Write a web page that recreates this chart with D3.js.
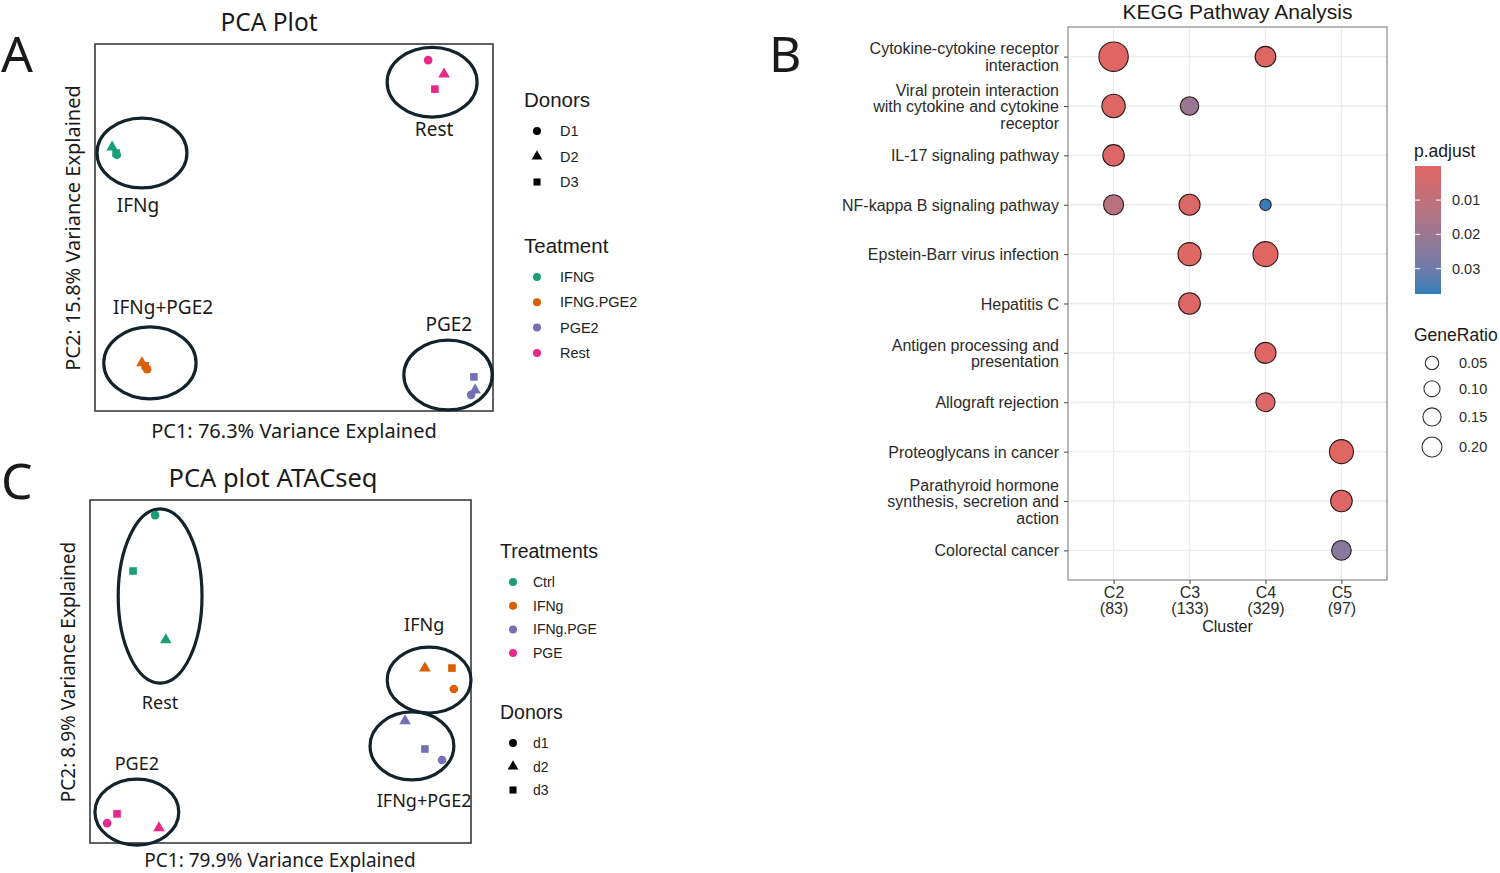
<!DOCTYPE html>
<html>
<head>
<meta charset="utf-8">
<script src="https://cdn.jsdelivr.net/npm/d3@7"></script>
<style>
  body { margin: 0; background: #fff; }
  svg { display: block; }
  .ann { font-family: "Noto Sans", "Open Sans", sans-serif; fill: #1a1a1a; }
  .gg { font-family: "Liberation Sans", Arial, sans-serif; }
</style>
</head>
<body>
<script>
// ---------- data ----------

// panel A: RNA-seq PCA (axes are unitless, 0-100 of the plotted range)
var pcaATreatments = ["IFNG", "IFNG.PGE2", "PGE2", "Rest"];
var pcaADonors = ["D1", "D2", "D3"];
var pcaAPoints = [
  {t: "Rest", d: "D1", pc1: 83.7, pc2: 95.6},
  {t: "Rest", d: "D2", pc1: 87.7, pc2: 91.8},
  {t: "Rest", d: "D3", pc1: 85.4, pc2: 87.7},
  {t: "IFNG", d: "D2", pc1: 4.3, pc2: 71.9},
  {t: "IFNG", d: "D3", pc1: 5.3, pc2: 70.3},
  {t: "IFNG", d: "D1", pc1: 5.5, pc2: 69.8},
  {t: "IFNG.PGE2", d: "D2", pc1: 11.8, pc2: 13.1},
  {t: "IFNG.PGE2", d: "D3", pc1: 12.6, pc2: 12.3},
  {t: "IFNG.PGE2", d: "D1", pc1: 13.1, pc2: 11.4},
  {t: "PGE2", d: "D3", pc1: 95.2, pc2: 9.3},
  {t: "PGE2", d: "D2", pc1: 95.5, pc2: 5.7},
  {t: "PGE2", d: "D1", pc1: 94.5, pc2: 4.4}
];
var pcaAGroups = [
  {label: "Rest", cx: 84.7, cy: 89.6, rx: 11.3, ry: 9.5, lx: 85.2, ly: 74.9},
  {label: "IFNg", cx: 11.8, cy: 70.3, rx: 11.3, ry: 9.5, lx: 10.8, ly: 54.2},
  {label: "IFNg+PGE2", cx: 13.8, cy: 13.1, rx: 11.6, ry: 9.8, lx: 17.1, ly: 26.4},
  {label: "PGE2", cx: 88.7, cy: 9.8, rx: 11.1, ry: 9.5, lx: 88.9, ly: 21.8}
];

// panel C: ATAC-seq PCA
var pcaCTreatments = ["Ctrl", "IFNg", "IFNg.PGE", "PGE"];
var pcaCDonors = ["d1", "d2", "d3"];
var pcaCPoints = [
  {t: "Ctrl", d: "d1", pc1: 17.1, pc2: 95.6},
  {t: "Ctrl", d: "d3", pc1: 11.3, pc2: 79.3},
  {t: "Ctrl", d: "d2", pc1: 19.9, pc2: 59.2},
  {t: "IFNg", d: "d2", pc1: 87.9, pc2: 51.0},
  {t: "IFNg", d: "d3", pc1: 95.0, pc2: 51.0},
  {t: "IFNg", d: "d1", pc1: 95.5, pc2: 44.9},
  {t: "IFNg.PGE", d: "d2", pc1: 82.7, pc2: 35.6},
  {t: "IFNg.PGE", d: "d3", pc1: 87.9, pc2: 27.4},
  {t: "IFNg.PGE", d: "d1", pc1: 92.4, pc2: 24.2},
  {t: "PGE", d: "d1", pc1: 4.5, pc2: 5.8},
  {t: "PGE", d: "d3", pc1: 7.1, pc2: 8.5},
  {t: "PGE", d: "d2", pc1: 18.1, pc2: 4.4}
];
var pcaCGroups = [
  {label: "Rest", cx: 18.4, cy: 72.0, rx: 11.0, ry: 25.4, lx: 18.4, ly: 39.1},
  {label: "IFNg", cx: 89.0, cy: 47.5, rx: 11.0, ry: 9.6, lx: 87.7, ly: 61.8},
  {label: "IFNg+PGE2", cx: 84.5, cy: 28.3, rx: 11.0, ry: 9.9, lx: 87.7, ly: 10.5},
  {label: "PGE2", cx: 12.3, cy: 9.0, rx: 11.0, ry: 9.6, lx: 12.3, ly: 21.3}
];

// panel B: KEGG enrichment
var pathways = [
  ["Cytokine-cytokine receptor", "interaction"],
  ["Viral protein interaction", "with cytokine and cytokine", "receptor"],
  ["IL-17 signaling pathway"],
  ["NF-kappa B signaling pathway"],
  ["Epstein-Barr virus infection"],
  ["Hepatitis C"],
  ["Antigen processing and", "presentation"],
  ["Allograft rejection"],
  ["Proteoglycans in cancer"],
  ["Parathyroid hormone", "synthesis, secretion and", "action"],
  ["Colorectal cancer"]
];
var clusters = ["C2", "C3", "C4", "C5"];
var clusterSizes = [83, 133, 329, 97];
var keggHits = [
  {path: 0, cl: "C2", ratio: 0.220, p: 0.0002},
  {path: 0, cl: "C4", ratio: 0.108, p: 0.0010},
  {path: 1, cl: "C2", ratio: 0.139, p: 0.0008},
  {path: 1, cl: "C3", ratio: 0.086, p: 0.0205},
  {path: 2, cl: "C2", ratio: 0.117, p: 0.0012},
  {path: 3, cl: "C2", ratio: 0.102, p: 0.0120},
  {path: 3, cl: "C3", ratio: 0.112, p: 0.0015},
  {path: 3, cl: "C4", ratio: 0.033, p: 0.0374},
  {path: 4, cl: "C3", ratio: 0.135, p: 0.0005},
  {path: 4, cl: "C4", ratio: 0.159, p: 0.0001},
  {path: 5, cl: "C3", ratio: 0.119, p: 0.0010},
  {path: 6, cl: "C4", ratio: 0.112, p: 0.0004},
  {path: 7, cl: "C4", ratio: 0.092, p: 0.0020},
  {path: 8, cl: "C5", ratio: 0.147, p: 0.0006},
  {path: 9, cl: "C5", ratio: 0.119, p: 0.0012},
  {path: 10, cl: "C5", ratio: 0.098, p: 0.0250}
];
var pAdjTicks = [0.01, 0.02, 0.03];
var ratioTicks = [0.05, 0.10, 0.15, 0.20];

// ---------- drawing ----------
var svg = d3.select("body").append("svg")
  .attr("width", 1500)
  .attr("height", 873);

var dark2 = ["#1b9e77", "#d95f02", "#7570b3", "#e7298a"];
var shapeList = [d3.symbolCircle, d3.symbolTriangle, d3.symbolSquare];

//panel letters
[["A", 1, 72], ["B", 769, 72], ["C", 1, 499]].forEach(function(l){
  svg.append("text").attr("class", "ann")
    .attr("x", l[1]).attr("y", l[2])
    .style("font-size", "50px")
    .text(l[0]);
});

function drawPCA(cfg){
  var x = d3.scaleLinear().domain([0, 100]).range([cfg.left, cfg.right]);
  var y = d3.scaleLinear().domain([0, 100]).range([cfg.bottom, cfg.top]);
  var color = d3.scaleOrdinal().domain(cfg.treatments).range(dark2);
  var shape = d3.scaleOrdinal().domain(cfg.donors).range(shapeList);
  var g = svg.append("g");

  //frame
  g.append("rect")
    .attr("x", cfg.left).attr("y", cfg.top)
    .attr("width", cfg.right - cfg.left).attr("height", cfg.bottom - cfg.top)
    .attr("fill", "none").attr("stroke", "#3a3a3a").attr("stroke-width", 1.6);

  //title and axis titles
  g.append("text").attr("class", "ann")
    .attr("x", cfg.titleX).attr("y", cfg.top - 13)
    .attr("text-anchor", "middle").style("font-size", cfg.titleSize + "px")
    .text(cfg.title);
  g.append("text").attr("class", "ann")
    .attr("x", cfg.xTitleX).attr("y", cfg.bottom + cfg.xTitleDy)
    .attr("text-anchor", "middle").style("font-size", cfg.axisSize + "px")
    .text(cfg.xTitle);
  g.append("text").attr("class", "ann")
    .attr("transform", "translate(" + (cfg.left - 15) + "," + cfg.yTitleY + ") rotate(-90)")
    .attr("text-anchor", "middle").style("font-size", cfg.axisSize + "px")
    .text(cfg.yTitle);

  //group ellipses
  g.selectAll(".grp").data(cfg.groups).enter()
    .append("ellipse")
    .attr("cx", function(d){ return x(d.cx); })
    .attr("cy", function(d){ return y(d.cy); })
    .attr("rx", function(d){ return x(d.cx + d.rx) - x(d.cx); })
    .attr("ry", function(d){ return y(d.cy) - y(d.cy + d.ry); })
    .attr("fill", "none").attr("stroke", "#13222b").attr("stroke-width", 3.2);

  g.selectAll(".grpLabel").data(cfg.groups).enter()
    .append("text").attr("class", "ann")
    .attr("x", function(d){ return x(d.lx); })
    .attr("y", function(d){ return y(d.ly); })
    .attr("text-anchor", "middle").style("font-size", cfg.labelSize + "px")
    .text(function(d){ return d.label; });

  //samples
  g.selectAll(".pt").data(cfg.points).enter()
    .append("path")
    .attr("transform", function(d){ return "translate(" + x(d.pc1) + "," + y(d.pc2) + ")"; })
    .attr("d", function(d){ return d3.symbol().type(shape(d.d)).size(58)(); })
    .attr("fill", function(d){ return color(d.t); });

  //legends
  cfg.legends.forEach(function(lg){
    var lgG = g.append("g").attr("class", "gg");
    lgG.append("text")
      .attr("x", lg.x).attr("y", lg.y)
      .style("font-size", lg.titleSize + "px").attr("fill", "#1a1a1a")
      .text(lg.title);
    var items = lgG.selectAll(".it").data(lg.keys).enter().append("g")
      .attr("transform", function(d, i){ return "translate(" + (lg.x + 13) + "," + (lg.y + 24 + i * lg.step) + ")"; });
    items.append("path")
      .attr("d", function(d){
        return d3.symbol().type(lg.kind == "shape" ? shape(d) : d3.symbolCircle).size(50)();
      })
      .attr("fill", function(d){ return lg.kind == "shape" ? "#000" : color(d); });
    items.append("text")
      .attr("x", lg.textDx).attr("y", 5)
      .style("font-size", lg.itemSize + "px").attr("fill", "#222")
      .text(function(d){ return d; });
  });
}

drawPCA({
  left: 95, right: 493, top: 44, bottom: 411,
  title: "PCA Plot", titleX: 269, xTitleX: 294, xTitleDy: 27, yTitleY: 228,
  titleSize: 24.5, axisSize: 20, labelSize: 19,
  xTitle: "PC1: 76.3% Variance Explained",
  yTitle: "PC2: 15.8% Variance Explained",
  treatments: pcaATreatments, donors: pcaADonors,
  points: pcaAPoints, groups: pcaAGroups,
  legends: [
    {title: "Donors", kind: "shape", keys: pcaADonors, x: 524, y: 107, step: 25.5,
     titleSize: 20.5, itemSize: 14.5, textDx: 23},
    {title: "Teatment", kind: "color", keys: pcaATreatments, x: 524, y: 253, step: 25.3,
     titleSize: 20.5, itemSize: 14.5, textDx: 23}
  ]
});

drawPCA({
  left: 90, right: 471, top: 500, bottom: 843,
  title: "PCA plot ATACseq", titleX: 273, xTitleX: 280, xTitleDy: 24, yTitleY: 672,
  titleSize: 25.5, axisSize: 19, labelSize: 18,
  xTitle: "PC1: 79.9% Variance Explained",
  yTitle: "PC2: 8.9% Variance Explained",
  treatments: pcaCTreatments, donors: pcaCDonors,
  points: pcaCPoints, groups: pcaCGroups,
  legends: [
    {title: "Treatments", kind: "color", keys: pcaCTreatments, x: 500, y: 558, step: 23.7,
     titleSize: 19.5, itemSize: 14, textDx: 20},
    {title: "Donors", kind: "shape", keys: pcaCDonors, x: 500, y: 719, step: 23.5,
     titleSize: 19.5, itemSize: 14, textDx: 20}
  ]
});

//KEGG dot plot
function drawKegg(){
  var left = 1068, right = 1387, top = 27, bottom = 580;
  var g = svg.append("g").attr("class", "gg");

  var x = d3.scalePoint().domain(clusters).range([left, right]).padding(0.6);
  var y = d3.scalePoint().domain(d3.range(pathways.length)).range([top, bottom]).padding(0.6);
  var size = d3.scaleSqrt().domain([0, 0.22]).range([0, 14.7]);
  var pMin = 0.00005, pMax = 0.0374;
  var color = d3.scaleLinear().domain([pMin, pMax])
    .range(["#e06663", "#327eba"]).interpolate(d3.interpolateLab);

  //title
  g.append("text")
    .attr("x", (left + right) / 2 + 10).attr("y", 19)
    .attr("text-anchor", "middle").style("font-size", "21px").attr("fill", "#1a1a1a")
    .text("KEGG Pathway Analysis");

  //grid
  g.selectAll(".vgrid").data(clusters).enter().append("line")
    .attr("x1", x).attr("x2", x).attr("y1", top).attr("y2", bottom)
    .attr("stroke", "#ebebeb").attr("stroke-width", 1.3);
  g.selectAll(".hgrid").data(y.domain()).enter().append("line")
    .attr("y1", y).attr("y2", y).attr("x1", left).attr("x2", right)
    .attr("stroke", "#ebebeb").attr("stroke-width", 1.3);

  //dots
  g.selectAll(".dot").data(keggHits).enter().append("circle")
    .attr("cx", function(d){ return x(d.cl); })
    .attr("cy", function(d){ return y(d.path); })
    .attr("r", function(d){ return size(d.ratio); })
    .attr("fill", function(d){ return color(d.p); })
    .attr("stroke", "#2a1a1a").attr("stroke-width", 1.1);

  g.append("rect")
    .attr("x", left).attr("y", top).attr("width", right - left).attr("height", bottom - top)
    .attr("fill", "none").attr("stroke", "#8a8a8a").attr("stroke-width", 1.2);

  //y axis with wrapped labels
  var yAxis = g.append("g")
    .attr("transform", "translate(" + left + ",0)")
    .call(d3.axisLeft(y).tickSize(4).tickFormat(""));
  yAxis.select(".domain").remove();
  yAxis.selectAll(".tick line").attr("stroke", "#444");
  yAxis.selectAll(".tick").each(function(i){
    var lines = pathways[i];
    var t = d3.select(this).append("text")
      .attr("x", -9).attr("text-anchor", "end")
      .style("font-size", "16px").attr("fill", "#2b2b2b");
    lines.forEach(function(s, k){
      t.append("tspan").attr("x", -9)
        .attr("y", (k - (lines.length - 1) / 2) * 16.5 + 5.5)
        .text(s);
    });
  });

  //x axis
  var xAxis = g.append("g")
    .attr("transform", "translate(0," + bottom + ")")
    .call(d3.axisBottom(x).tickSize(4).tickFormat(""));
  xAxis.select(".domain").remove();
  xAxis.selectAll(".tick line").attr("stroke", "#444");
  xAxis.selectAll(".tick").each(function(c, i){
    var t = d3.select(this).append("text")
      .attr("text-anchor", "middle").style("font-size", "16px").attr("fill", "#2b2b2b");
    t.append("tspan").attr("x", 0).attr("y", 18).text(c);
    t.append("tspan").attr("x", 0).attr("y", 34).text("(" + clusterSizes[i] + ")");
  });
  g.append("text")
    .attr("x", (left + right) / 2).attr("y", bottom + 52)
    .attr("text-anchor", "middle").style("font-size", "16px").attr("fill", "#1a1a1a")
    .text("Cluster");

  //p.adjust colour bar
  var barX = 1415, barW = 26, barTop = 166, barBottom = 294;
  var barY = d3.scaleLinear().domain([pMin, pMax]).range([barTop, barBottom]);
  g.append("text").attr("x", 1414).attr("y", 157)
    .style("font-size", "17.5px").attr("fill", "#1a1a1a").text("p.adjust");
  var grad = svg.append("defs").append("linearGradient")
    .attr("id", "pgrad").attr("x1", 0).attr("x2", 0).attr("y1", 0).attr("y2", 1);
  d3.range(0, 1.001, 0.1).forEach(function(f){
    grad.append("stop").attr("offset", f)
      .attr("stop-color", color(pMin + f * (pMax - pMin)));
  });
  g.append("rect").attr("x", barX).attr("y", barTop)
    .attr("width", barW).attr("height", barBottom - barTop)
    .attr("fill", "url(#pgrad)");
  g.selectAll(".ptick").data(pAdjTicks).enter().append("g")
    .each(function(v){
      var gg = d3.select(this);
      gg.append("line").attr("x1", barX).attr("x2", barX + 5)
        .attr("y1", barY(v)).attr("y2", barY(v)).attr("stroke", "#fff").attr("stroke-width", 1);
      gg.append("line").attr("x1", barX + barW - 5).attr("x2", barX + barW)
        .attr("y1", barY(v)).attr("y2", barY(v)).attr("stroke", "#fff").attr("stroke-width", 1);
      gg.append("text").attr("x", 1452).attr("y", barY(v) + 5)
        .style("font-size", "14.5px").attr("fill", "#2b2b2b").text(v.toFixed(2));
    });

  //GeneRatio legend (keys drawn smaller, as in the original figure)
  var keySize = d3.scaleSqrt().domain([0.05, 0.20]).range([6.7, 10]);
  g.append("text").attr("x", 1414).attr("y", 341)
    .style("font-size", "17.5px").attr("fill", "#1a1a1a").text("GeneRatio");
  var ky = 363;
  ratioTicks.forEach(function(v, i){
    if (i > 0) ky += keySize(ratioTicks[i - 1]) + keySize(v) + 11;
    g.append("circle").attr("cx", 1432).attr("cy", ky).attr("r", keySize(v))
      .attr("fill", "none").attr("stroke", "#333").attr("stroke-width", 1.1);
    g.append("text").attr("x", 1459).attr("y", ky + 5)
      .style("font-size", "14.5px").attr("fill", "#2b2b2b").text(v.toFixed(2));
  });
}

drawKegg();
</script>
</body>
</html>
